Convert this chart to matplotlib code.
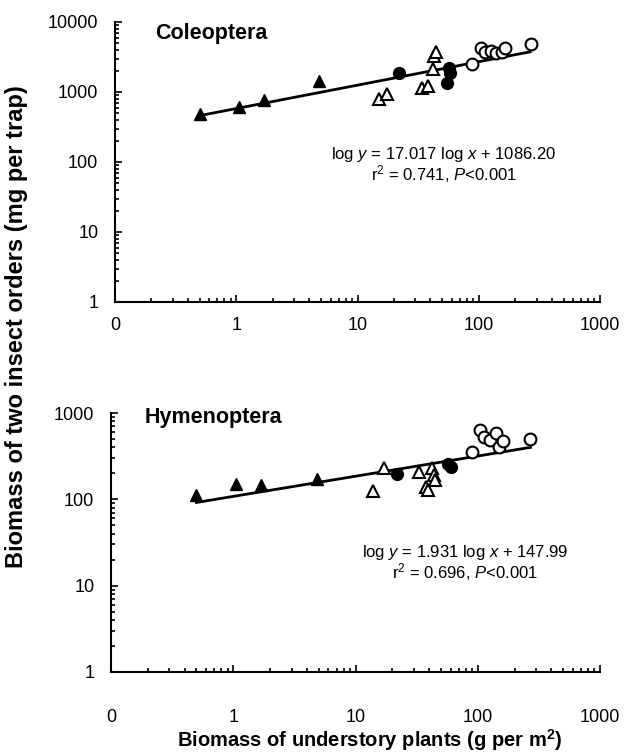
import matplotlib.pyplot as plt
from matplotlib.ticker import LogLocator, FixedLocator, NullFormatter

plt.rcParams['font.family'] = ['Liberation Sans', 'DejaVu Sans']
plt.rcParams['mathtext.fontset'] = 'custom'
plt.rcParams['mathtext.rm'] = 'Liberation Sans'
plt.rcParams['mathtext.it'] = 'Liberation Sans:italic'
plt.rcParams['mathtext.bf'] = 'Liberation Sans:bold'

# Coleoptera
col_ftri_x = [0.5, 1.05, 1.7, 4.8]
col_ftri_y = [490, 620, 770, 1450]
col_otri_x = [15, 17.5, 34, 38, 42, 43, 44]
col_otri_y = [800, 950, 1150, 1200, 2100, 3300, 3700]
col_fcir_x = [22, 57, 58, 55]
col_fcir_y = [1850, 2200, 1850, 1350]
col_ocir_x = [88, 105, 112, 125, 140, 155, 165, 270]
col_ocir_y = [2500, 4200, 3700, 3800, 3600, 3700, 4300, 4800]
col_fit_x = [0.5, 265]
col_fit_y = [460, 3750]

# Hymenoptera
hym_ftri_x = [0.5, 1.05, 1.7, 4.8]
hym_ftri_y = [112, 150, 148, 170]
hym_otri_x = [14, 17, 33, 38, 39, 42, 44, 45]
hym_otri_y = [125, 228, 208, 140, 128, 228, 190, 168]
hym_fcir_x = [22, 57, 60]
hym_fcir_y = [195, 255, 235]
hym_ocir_x = [90, 105, 112, 125, 140, 150, 160, 270]
hym_ocir_y = [350, 640, 530, 490, 580, 400, 480, 500]
hym_fit_x = [0.5, 270]
hym_fit_y = [92, 400]

x_ticks = [0.1, 1, 10, 100, 1000]
x_labels = ['0', '1', '10', '100', '1000']

fig = plt.figure(figsize=(6.39, 7.55), dpi=100)
ax1 = fig.add_axes([115/639, 1-302/755, 485/639, 280/755])
ax2 = fig.add_axes([111/639, 1-672/755, 489/639, 259/755])


def panel(ax, ftx, fty, otx, oty, fcx, fcy, ocx, ocy, fx, fy, ymax, xpad):
    ax.plot(fx, fy, color='black', lw=2.0, zorder=2)
    ax.plot(ftx, fty, '^', ms=9, mfc='black', mec='black', zorder=3)
    ax.plot(otx, oty, '^', ms=9, mfc='white', mec='black', mew=1.5, zorder=3)
    ax.plot(fcx, fcy, 'o', ms=8.5, mfc='black', mec='black', zorder=3)
    ax.plot(ocx, ocy, 'o', ms=8.5, mfc='white', mec='black', mew=1.5, zorder=3)
    ax.set_xscale('log')
    ax.set_yscale('log')
    ax.set_xlim(0.1, 1000)
    ax.set_ylim(1, ymax)
    ax.spines['top'].set_visible(False)
    ax.spines['right'].set_visible(False)
    ax.spines['left'].set_linewidth(1.5)
    ax.spines['bottom'].set_linewidth(1.5)
    ax.xaxis.set_major_locator(FixedLocator(x_ticks))
    ax.set_xticklabels(x_labels)
    ax.xaxis.set_minor_locator(LogLocator(base=10, subs=range(2, 10), numticks=20))
    ax.xaxis.set_minor_formatter(NullFormatter())
    yt = [10**i for i in range(0, len(str(ymax)))]
    ax.yaxis.set_major_locator(FixedLocator(yt))
    ax.set_yticklabels([str(v) for v in yt])
    ax.yaxis.set_minor_locator(LogLocator(base=10, subs=range(2, 10), numticks=20))
    ax.yaxis.set_minor_formatter(NullFormatter())
    ax.tick_params(which='both', direction='in', width=1.2, labelsize=13)
    ax.tick_params(which='major', length=5)
    ax.tick_params(which='minor', length=3)
    ax.tick_params(axis='y', which='major', pad=12)
    ax.tick_params(axis='x', which='major', pad=xpad)


panel(ax1, col_ftri_x, col_ftri_y, col_otri_x, col_otri_y, col_fcir_x, col_fcir_y,
      col_ocir_x, col_ocir_y, col_fit_x, col_fit_y, 10000, 11)
panel(ax2, hym_ftri_x, hym_ftri_y, hym_otri_x, hym_otri_y, hym_fcir_x, hym_fcir_y,
      hym_ocir_x, hym_ocir_y, hym_fit_x, hym_fit_y, 1000, 27)

fig.text(155/639, 1-33/755, 'Coleoptera', fontsize=15.5, fontweight='bold', va='center')
fig.text(145/639, 1-418/755, 'Hymenoptera', fontsize=15.5, fontweight='bold', va='center')

fig.text(444/639, 1-155/755, r'log $y$ = 17.017 log $x$ + 1086.20', fontsize=12, ha='center', va='center')
fig.text(444/639, 1-174/755, r'r$^2$ = 0.741, $P$<0.001', fontsize=12, ha='center', va='center')
fig.text(465/639, 1-553/755, r'log $y$ = 1.931 log $x$ + 147.99', fontsize=12, ha='center', va='center')
fig.text(465/639, 1-572/755, r'r$^2$ = 0.696, $P$<0.001', fontsize=12, ha='center', va='center')

fig.text(17/639, 1-327/755, 'Biomass of two insect orders (mg per trap)', fontsize=17,
         fontweight='bold', rotation=90, ha='center', va='center')
fig.text(370/639, 1-740/755, r'Biomass of understory plants (g per m$^\mathbf{2}$)', fontsize=14.5,
         fontweight='bold', ha='center', va='center')

fig.savefig('out.png', dpi=100)
